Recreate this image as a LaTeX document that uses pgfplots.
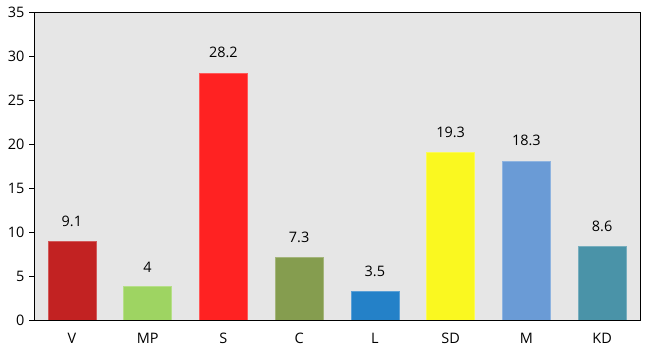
\documentclass[border=0pt]{standalone}
\usepackage{fontspec}
\setmainfont{Open Sans}
\usepackage{pgfplots}
\pgfplotsset{compat=1.18}
\definecolor{bg}{HTML}{E6E6E6}
\definecolor{cV}{HTML}{C22222}
\definecolor{cMP}{HTML}{9ED462}
\definecolor{cS}{HTML}{FF2222}
\definecolor{cC}{HTML}{859D4F}
\definecolor{cL}{HTML}{2481C8}
\definecolor{cSD}{HTML}{FAF820}
\definecolor{cM}{HTML}{6A9BD6}
\definecolor{cKD}{HTML}{4A93A8}
\begin{document}
\begin{tikzpicture}
\begin{axis}[
  scale only axis,
  width=606bp, height=308bp,
  xmin=-0.5, xmax=7.5,
  ymin=0, ymax=35,
  ytick={0,5,...,35},
  xtick={0,...,7},
  xticklabels={V,MP,S,C,L,SD,M,KD},
  ytick pos=left,
  xtick pos=bottom,
  major x tick style={draw=none},
  tick align=outside,
  major tick length=5bp,
  y tick style={black, line width=0.8pt},
  axis line style={black, line width=0.8pt},
  axis background/.style={fill=bg},
  tick label style={font=\fontsize{14.5}{17}\selectfont},
  /pgf/number format/assume math mode=true,
  yticklabel style={xshift=-1bp},
  xticklabel style={yshift=-5bp},
  ybar, bar width=48bp, bar shift=0pt,
  nodes near coords,
  point meta=explicit symbolic,
  every node near coord/.append style={font=\fontsize{14.5}{17}\selectfont, black, anchor=south, yshift=11bp},
]
\addplot[fill=cV, draw=cV!75!white] coordinates {(0,8.9) [9.1]};
\addplot[fill=cMP, draw=cMP!75!white] coordinates {(1,3.8) [4]};
\addplot[fill=cS, draw=cS!75!white] coordinates {(2,28.1) [28.2]};
\addplot[fill=cC, draw=cC!75!white] coordinates {(3,7.1) [7.3]};
\addplot[fill=cL, draw=cL!75!white] coordinates {(4,3.3) [3.5]};
\addplot[fill=cSD, draw=cSD!75!white] coordinates {(5,19.1) [19.3]};
\addplot[fill=cM, draw=cM!75!white] coordinates {(6,18.1) [18.3]};
\addplot[fill=cKD, draw=cKD!75!white] coordinates {(7,8.4) [8.6]};
\end{axis}
\path ([xshift=-34bp,yshift=-33bp]current axis.south west) rectangle ([xshift=7bp,yshift=12bp]current axis.north east);
\end{tikzpicture}
\end{document}
